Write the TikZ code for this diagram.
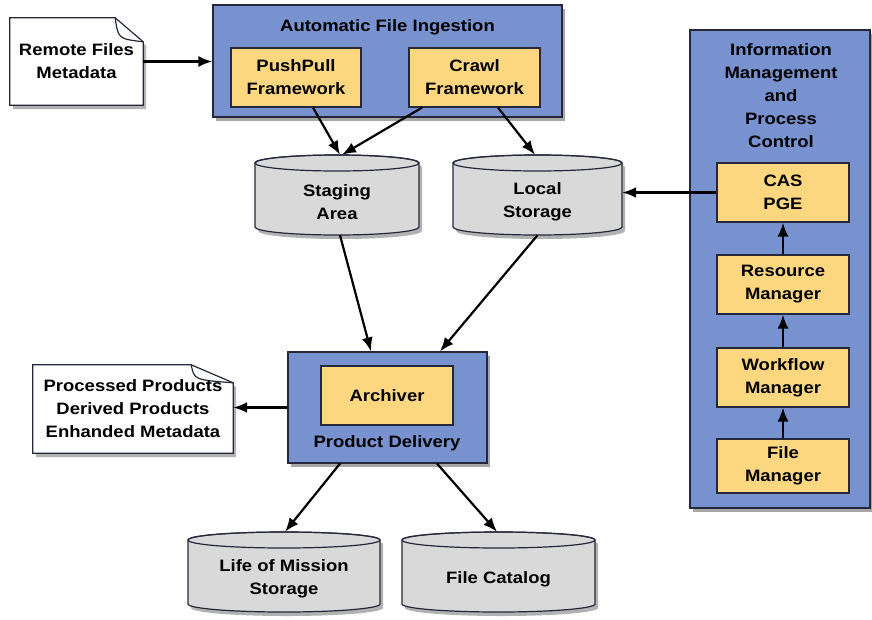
\documentclass[tikz,border=0pt]{standalone}
\usepackage{fontspec}
\setmainfont{Liberation Sans}[FakeStretch=1.12]
\usetikzlibrary{arrows.meta,shadows,calc}
\definecolor{groupblue}{HTML}{7792CF}
\definecolor{compyellow}{HTML}{FDD680}
\definecolor{drumgray}{HTML}{D9D9D9}
\definecolor{edge}{HTML}{25283A}

% a storage drum: #1 name, #2 cx, #3 cy, #4 half width, #5 text
\newcommand\drum[5]{%
  \begin{scope}[shift={(#2,#3)}]
    \fill[black,opacity=0.3] (-#4+3,-28) -- (-#4+3,36)
      arc[start angle=180,end angle=0,x radius=#4,y radius=8] -- (#4+3,-28)
      arc[start angle=0,end angle=-180,x radius=#4,y radius=8] -- cycle;
    \draw[edge,line width=1.2pt,fill=drumgray] (-#4,-32) -- (-#4,32)
      arc[start angle=180,end angle=0,x radius=#4,y radius=8] -- (#4,-32)
      arc[start angle=0,end angle=-180,x radius=#4,y radius=8] -- cycle;
    \draw[edge,line width=1.2pt] (0,-32) ellipse[x radius=#4,y radius=8];
  \end{scope}
  \node[minimum width=2*#4, minimum height=80, inner sep=0] (#1) at (#2,#3) {};
  \node[lbl] at (#2,#3+7) {#5};
}

% a document with a folded corner round node #1; fold #2 wide, #3 high
\newcommand\docshape[3]{%
  \fill[black,opacity=0.3] ([shift={(3,4)}]#1.north west) -- ([shift={(3-#2,4)}]#1.north east)
    -- ([shift={(3,4+#3)}]#1.north east) -- ([shift={(3,4)}]#1.south east)
    -- ([shift={(3,4)}]#1.south west) -- cycle;
  \draw[edge,line width=1.2pt,fill=white] (#1.north west) -- ([shift={(-#2,0)}]#1.north east)
    -- ([shift={(0,#3)}]#1.north east) -- (#1.south east) -- (#1.south west) -- cycle;
  \draw[edge,line width=1.2pt] ([shift={(-#2,0)}]#1.north east)
    .. controls ([shift={(-#2+3,#3-3)}]#1.north east) .. ([shift={(0,#3)}]#1.north east);
}

\begin{document}
\begin{tikzpicture}[x=1pt,y=-1pt,
  font=\fontsize{16.5}{23}\selectfont\bfseries,
  group/.style={draw=edge, line width=1.2pt, fill=groupblue, inner sep=0,
    drop shadow={shadow xshift=3pt, shadow yshift=-4pt, opacity=0.35, fill=black}},
  comp/.style={draw=edge, line width=1.2pt, fill=compyellow, align=center, inner sep=0,
    minimum width=132, minimum height=59},
  lbl/.style={align=center, inner sep=0},
  docbox/.style={align=center, inner sep=0},
  arr/.style={line width=2.2pt, -{Latex[length=14pt,width=11pt]}},
]
\useasboundingbox (0,0) rectangle (872,619);

% ingestion group
\node[group, minimum width=349, minimum height=112] (afi) at (387.5,61) {};
\node[lbl] (afititle) at (387.5,27) {Automatic File Ingestion};
\node[comp, minimum width=130] (push) at (296,77.5) {PushPull\\Framework};
\node[comp, minimum width=131] (crawl) at (474.5,77.5) {Crawl\\Framework};

% remote metadata
\node[docbox, minimum width=133, minimum height=87] (remote) at (76.5,61.5) {};
\docshape{remote}{28}{24}
\node[lbl] at (remote) {Remote Files\\Metadata};

% storage
\drum{stage}{337}{195}{82}{Staging\\Area}
\drum{local}{537.5}{195}{84.5}{Local\\Storage}

% information management and process control
\node[group, minimum width=180, minimum height=478] (info) at (780,269) {};
\node[lbl] (infotitle) at (781,96) {Information\\Management\\and\\Process\\Control};
\node[comp] (cas) at (783,192.5) {CAS\\PGE};
\node[comp] (res) at (783,284.5) {Resource\\Manager};
\node[comp] (wf) at (783,377.5) {Workflow\\Manager};
\node[comp, minimum height=54] (fm) at (783,466) {File\\Manager};

% product delivery
\node[group, minimum width=199, minimum height=111] (pd) at (387.5,407.5) {};
\node[comp] (arch) at (387,395.5) {Archiver};
\node[lbl] (pdtitle) at (387,443) {Product Delivery};

% delivered products
\node[docbox, minimum width=200, minimum height=88] (out) at (133,409) {};
\docshape{out}{42}{18}
\node[lbl] at (out) {Processed Products\\Derived Products\\Enhanded Metadata};

% archives
\drum{lom}{284}{572}{96}{Life of Mission\\Storage}
\drum{fc}{498.5}{572}{96.5}{File Catalog}

% connectors
\draw[arr] (remote.east) -- (remote.east -| afi.west);
\draw[arr] ([shift={(17,0)}]push.south) -- ([shift={(3,0)}]stage.north);
\draw[arr] ([shift={(-52.5,0)}]crawl.south) -- ([shift={(5,0)}]stage.north);
\draw[arr] ([shift={(23.5,0)}]crawl.south) -- ([shift={(-2.5,0)}]local.north);
\draw[arr] ([shift={(3,0)}]stage.south) -- ([shift={(-16.5,0)}]pd.north);
\draw[arr] (local.south) -- ([shift={(52.5,0)}]pd.north);
\draw[arr] (cas.west) -- (cas.west -| local.east);
\draw[arr] (res.north) -- (cas.south);
\draw[arr] (wf.north) -- (res.south);
\draw[arr] (fm.north) -- (wf.south);
\draw[arr] (pd.west) -- (pd.west -| out.east);
\draw[arr] ([shift={(-47.5,0)}]pd.south) -- ([shift={(1,0)}]lom.north);
\draw[arr] ([shift={(49.5,0)}]pd.south) -- ([shift={(-1.5,0)}]fc.north);
\end{tikzpicture}
\end{document}
